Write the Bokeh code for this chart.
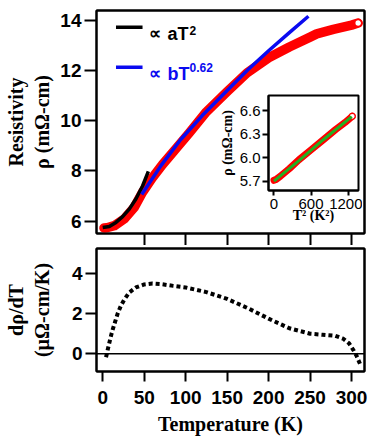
from bokeh.plotting import figure
from bokeh.models import (Range1d, FixedTicker, Span, Label, Arrow, LinearAxis,
                          PrintfTickFormatter, GridBox, CustomJSTickFormatter)
from bokeh.embed import file_html
from bokeh.resources import INLINE

# ---------------- data ----------------
T_rho = [1.5, 5, 14, 26, 38, 48, 60, 72, 90, 104, 125, 150, 174, 200, 225, 250, 258, 278, 300, 308]
rho = [5.73, 5.74, 5.82, 6.09, 6.55, 7.15, 7.73, 8.25, 8.95, 9.5, 10.35, 11.15, 11.9, 12.5,
       12.93, 13.32, 13.45, 13.63, 13.8, 13.88]

T_fitA = [0, 8, 16, 24, 32, 40, 48, 55]
rho_fitA = [5.75, 5.79, 5.95, 6.18, 6.48, 6.88, 7.4, 7.98]

T_fitB = [47, 70, 94, 120, 150, 175, 200, 225, 248]
rho_fitB = [7.06, 8.2, 9.25, 10.2, 11.2, 12.02, 12.78, 13.5, 14.15]

T_drho = [4, 6, 8, 10, 12, 15, 18, 22, 26, 32, 40, 50, 60, 70, 85, 100, 125, 150, 175, 200,
          225, 250, 265, 280, 290, 297, 302, 306, 311]
drho = [-0.17, 0.2, 0.55, 0.9, 1.2, 1.6, 2.0, 2.4, 2.7, 3.05, 3.3, 3.45, 3.5, 3.47, 3.38, 3.3,
        3.07, 2.73, 2.27, 1.75, 1.27, 1.0, 0.95, 0.9, 0.75, 0.52, 0.2, -0.1, -0.58]

T2_inset = [0, 30, 100, 250, 400, 600, 800, 1000, 1150, 1268]
rho_inset = [5.71, 5.72, 5.76, 5.86, 5.97, 6.10, 6.23, 6.36, 6.45, 6.53]
T2_line = [0, 400, 800, 1260]
rho_line = [5.70, 5.96, 6.23, 6.525]

top_xticks = [50, 100, 150, 200, 250, 300]
bottom_xticks = [0, 50, 100, 150, 200, 250, 300]
rho_ticks = [6, 8, 10, 12, 14]
drho_ticks = [0, 2, 4]
inset_xticks = [0, 600, 1200]
inset_yticks = [5.7, 6.0, 6.3, 6.6]

legend_prefix = "\u221d"
legend_labels = ["aT", "bT"]
legend_sups = ["2", "0.62"]

SANS = "Liberation Sans"
SERIF = "Liberation Serif"
BLUE = "#0a0af0"


def style(p, tick_size="19px", title_size="20px", bold_ticks=True):
    p.grid.visible = False
    p.outline_line_color = "black"
    p.outline_line_width = 2
    p.background_fill_color = "white"
    p.border_fill_color = "white"
    for ax in p.axis:
        ax.axis_line_color = "black"
        ax.axis_line_width = 2
        ax.major_tick_in = 0
        ax.minor_tick_line_color = None
        ax.major_tick_line_width = 2
        ax.major_tick_line_color = "black"
        ax.major_label_text_font = SANS
        ax.major_label_text_font_style = "bold" if bold_ticks else "normal"
        ax.major_label_text_font_size = tick_size
        ax.major_label_text_color = "black"
        ax.axis_label_text_font = SERIF
        ax.axis_label_text_font_style = "bold"
        ax.axis_label_text_font_size = title_size
        ax.axis_label_text_color = "black"
        ax.axis_label_text_line_height = 1.2


def frame_edges(p):
    for side in ("above", "right"):
        ax = LinearAxis(ticker=FixedTicker(ticks=[]), axis_line_color="black", axis_line_width=2,
                        major_tick_out=0, major_tick_in=0, minor_tick_line_color=None,
                        major_label_standoff=0, axis_label_standoff=0,
                        major_label_text_font_size="1px")
        p.add_layout(ax, side)


def text(p, x, y, s, size, color):
    p.add_layout(Label(x=x, y=y, text=s, text_font=SANS, text_font_style="bold",
                       text_font_size=size, text_color=color, text_baseline="alphabetic"))


xr = Range1d(-7.5, 315.6)

# ---------------- top panel ----------------
top = figure(width=370, height=245, x_range=xr, y_range=Range1d(5.51, 14.38),
             output_backend="svg", toolbar_location=None,
             min_border_left=96, min_border_right=6, min_border_top=10, min_border_bottom=12)
style(top)
top.xaxis.ticker = FixedTicker(ticks=top_xticks)
top.xaxis.major_tick_out = 12
top.xaxis.formatter = CustomJSTickFormatter(code="return ''")
top.xaxis.major_label_text_font_size = "1px"
top.xaxis.major_label_text_color = None
top.xaxis.major_label_standoff = 0
top.yaxis.ticker = FixedTicker(ticks=rho_ticks)
top.yaxis.major_tick_out = 12
top.yaxis.major_label_standoff = 3
top.yaxis.axis_label = "Resistivity\n\u03c1 (m\u03a9-cm)"
top.yaxis.axis_label_standoff = 4
frame_edges(top)

top.line(T_rho, rho, line_color="#ff0000", line_width=9.5, line_cap="round", line_join="round")
top.scatter([T_rho[-1]], [rho[-1]], marker="circle", size=7, fill_color="white",
            line_color="#ff0000", line_width=1.5)
top.line(T_fitA, rho_fitA, line_color="black", line_width=3.5)
top.line(T_fitB, rho_fitB, line_color=BLUE, line_width=3.5)

# legend keys and texts (annotations)
top.add_layout(Arrow(end=None, x_start=16, y_start=13.716, x_end=48, y_end=13.716,
                     line_color="black", line_width=3.5))
top.add_layout(Arrow(end=None, x_start=16, y_start=12.125, x_end=48, y_end=12.125,
                     line_color=BLUE, line_width=3.5))
text(top, 55.2, 13.453, legend_prefix, "17px", "black")
text(top, 78.1, 13.453, legend_labels[0], "18px", "black")
text(top, 104.6, 13.60, legend_sups[0], "12px", "black")
text(top, 55.2, 11.862, legend_prefix, "17px", BLUE)
text(top, 78.1, 11.862, legend_labels[1], "18px", BLUE)
text(top, 104.6, 12.113, legend_sups[1], "12px", BLUE)

# ---------------- inset ----------------
inset = figure(width=152, height=137, x_range=Range1d(-89, 1370),
               y_range=Range1d(5.58, 6.796), output_backend="svg", toolbar_location=None,
               min_border_left=58, min_border_right=4, min_border_top=4, min_border_bottom=38)
style(inset, tick_size="15px", title_size="14px", bold_ticks=False)
inset.border_fill_color = None
inset.xaxis.ticker = FixedTicker(ticks=inset_xticks)
inset.xaxis.major_tick_out = 5
inset.xaxis.major_label_standoff = 3
inset.xaxis.axis_label = "T\u00b2 (K\u00b2)"
inset.xaxis.axis_label_standoff = -4
inset.yaxis.ticker = FixedTicker(ticks=inset_yticks)
inset.yaxis.formatter = PrintfTickFormatter(format="%.1f")
inset.yaxis.major_tick_out = 6
inset.yaxis.major_label_standoff = 2
inset.yaxis.axis_label = "\u03c1 (m\u03a9-cm)"
inset.yaxis.axis_label_standoff = 2
inset.line(T2_inset, rho_inset, line_color="#ff0000", line_width=7, line_cap="round", line_join="round")
inset.scatter([T2_inset[-1]], [rho_inset[-1]], marker="circle", size=6, fill_color="white",
              line_color="#ff0000", line_width=1.2)
inset.line(T2_line, rho_line, line_color="#22b022", line_width=3)

# ---------------- bottom panel ----------------
bottom = figure(width=370, height=197, x_range=xr, y_range=Range1d(-0.88, 5.24),
                output_backend="svg", toolbar_location=None,
                min_border_left=96, min_border_right=6, min_border_top=3, min_border_bottom=71)
style(bottom)
bottom.xaxis.ticker = FixedTicker(ticks=bottom_xticks)
bottom.xaxis.major_tick_out = 10
bottom.xaxis.major_label_standoff = 9
bottom.xaxis.axis_label = "Temperature (K)"
bottom.xaxis.axis_label_standoff = 6
bottom.yaxis.ticker = FixedTicker(ticks=drho_ticks)
bottom.yaxis.major_tick_out = 11
bottom.yaxis.major_label_standoff = 3
bottom.yaxis.axis_label = "d\u03c1/dT\n(\u00b5\u03a9-cm/K)"
bottom.yaxis.axis_label_standoff = 16
frame_edges(bottom)
bottom.add_layout(Span(location=0, dimension="width", line_color="black", line_width=1.5))
bottom.line(T_drho, drho, line_color="black", line_width=4, line_dash="4 3")

p = GridBox(children=[(top, 0, 0, 3, 3), (inset, 1, 1, 1, 1), (bottom, 3, 0, 1, 3)],
            rows=["91px", "137px", "17px", "197px"], cols=["210px", "152px", "8px"])

open("out.html", "w").write(file_html(p, INLINE))
